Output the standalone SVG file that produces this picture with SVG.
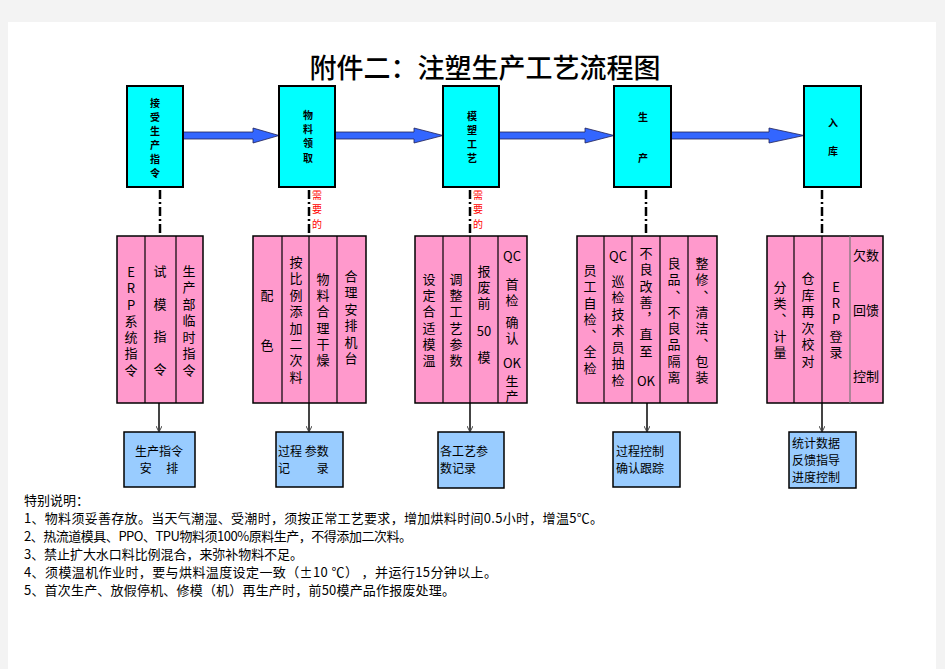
<svg xmlns="http://www.w3.org/2000/svg" width="945" height="669" viewBox="0 0 945 669">
<style>
.t{font-family:"Noto Sans CJK SC","Liberation Sans",sans-serif;fill:#000}
.v{writing-mode:vertical-rl;text-orientation:upright}
.top{fill:#00FFFF;stroke:#000;stroke-width:2}
.tt{font-size:10px;font-weight:bold}
.pk{fill:#FF99CC;stroke:#000;stroke-width:1.5}
.pd{stroke:#000;stroke-width:1.2}
.ct{font-size:13px}
.bt{font-size:12px}
.bl{fill:#99CCFF;stroke:#000;stroke-width:1.5}
.arr{fill:#3366FF;stroke:#222255;stroke-width:0.8}
.dd{stroke:#000;stroke-width:2.5;stroke-dasharray:9 3 2 3;fill:none}
.ln{stroke:#444;stroke-width:2;fill:none;marker-end:url(#ah)}
.red{font-size:10px;fill:#FF0000}
.nt{font-size:13px}
</style>
<defs>
<marker id="ah" markerWidth="6" markerHeight="6" refX="5" refY="3" orient="auto" markerUnits="userSpaceOnUse">
<path d="M0,0 L6,3 L0,6" fill="none" stroke="#444" stroke-width="1"/>
</marker>
</defs>
<rect x="0" y="0" width="945" height="669" fill="#F3F3F3"/>
<rect x="8" y="22" width="928" height="647" fill="#FFFFFF"/>
<text class="t" x="485" y="78" font-size="27" font-weight="500" text-anchor="middle">附件二：注塑生产工艺流程图</text>

<g id="connectors">
<polygon class="arr" points="183,132 253,132 253,128 279,135.5 253,143 253,139 183,139"/>
<polygon class="arr" points="335,132 414,132 414,128 443,135.5 414,143 414,139 335,139"/>
<polygon class="arr" points="499,132 585,132 585,128 614,135.5 585,143 585,139 499,139"/>
<polygon class="arr" points="671,132 769,132 769,128 804,135.5 769,143 769,139 671,139"/>
<line class="dd" x1="160" y1="190" x2="160" y2="236"/>
<line class="dd" x1="309" y1="190" x2="309" y2="236"/>
<line class="dd" x1="470" y1="190" x2="470" y2="236"/>
<line class="dd" x1="646" y1="190" x2="646" y2="236"/>
<line class="dd" x1="822" y1="190" x2="822" y2="236"/>
<text class="t red v" x="317" y="190" letter-spacing="4.5">需要的</text>
<text class="t red v" x="478" y="190" letter-spacing="4.5">需要的</text>
<line class="ln" x1="159" y1="403" x2="159" y2="431"/>
<line class="ln" x1="309" y1="403" x2="309" y2="431"/>
<line class="ln" x1="470" y1="403" x2="470" y2="431"/>
<line class="ln" x1="647" y1="403" x2="647" y2="431"/>
<line class="ln" x1="822" y1="403" x2="822" y2="431"/>
</g>

<g id="n1">
<rect class="top" x="127" y="86" width="56" height="101"/>
<text class="t tt v" x="155" y="98" letter-spacing="4">接受生产指令</text>
</g>
<g id="n2">
<rect class="top" x="279" y="86" width="56" height="101"/>
<text class="t tt v" x="308" y="110" letter-spacing="4.3">物料领取</text>
</g>
<g id="n3">
<rect class="top" x="443" y="86" width="56" height="101"/>
<text class="t tt v" x="472" y="111" letter-spacing="4">模塑工艺</text>
</g>
<g id="n4">
<rect class="top" x="614" y="86" width="57" height="101"/>
<text class="t tt v" x="643" y="112" letter-spacing="31">生产</text>
</g>
<g id="n5">
<rect class="top" x="804" y="86" width="57" height="101"/>
<text class="t tt v" x="833" y="118" letter-spacing="18">入库</text>
</g>

<g id="p1">
<rect class="pk" x="117" y="236" width="86" height="167"/>
<line class="pd" x1="145" y1="236" x2="145" y2="403"/>
<line class="pd" x1="176" y1="236" x2="176" y2="403"/>
<text class="t ct v" x="131" y="265.5" letter-spacing="3.3">ERP系统指令</text>
<text class="t ct v" x="160" y="264.5" letter-spacing="19.7">试模指令</text>
<text class="t ct v" x="189" y="264.5" letter-spacing="3.5">生产部临时指令</text>
</g>

<g id="p2">
<rect class="pk" x="253" y="236" width="113" height="167"/>
<line class="pd" x1="282" y1="236" x2="282" y2="403"/>
<line class="pd" x1="309" y1="236" x2="309" y2="403"/>
<line class="pd" x1="337" y1="236" x2="337" y2="403"/>
<text class="t ct v" x="267" y="288.5" letter-spacing="37">配色</text>
<text class="t ct v" x="296" y="255.5" letter-spacing="3.4">按比例添加二次料</text>
<text class="t ct v" x="323" y="272.5" letter-spacing="3.2">物料合理干燥</text>
<text class="t ct v" x="351" y="269.5" letter-spacing="3.4">合理安排机台</text>
</g>

<g id="p3">
<rect class="pk" x="415" y="236" width="112" height="167"/>
<line class="pd" x1="443" y1="236" x2="443" y2="403"/>
<line class="pd" x1="470" y1="236" x2="470" y2="403"/>
<line class="pd" x1="498" y1="236" x2="498" y2="403"/>
<text class="t ct v" x="429" y="272.5" letter-spacing="3.2">设定合适模温</text>
<text class="t ct v" x="456" y="272.5" letter-spacing="3.2">调整工艺参数</text>
<text class="t ct v" x="484" y="264.5" letter-spacing="3">报废前</text>
<text class="t ct" x="484" y="330" text-anchor="middle" dominant-baseline="central">50</text>
<text class="t ct v" x="484" y="350.5">模</text>
<text class="t ct" x="512" y="255" text-anchor="middle" dominant-baseline="central">QC</text>
<text class="t ct v" x="512" y="277.5" letter-spacing="3">首检</text>
<text class="t ct v" x="512" y="315.5" letter-spacing="3">确认</text>
<text class="t ct" x="512" y="362" text-anchor="middle" dominant-baseline="central">OK</text>
<text class="t ct v" x="512" y="375" letter-spacing="1.5">生产</text>
</g>

<g id="p4">
<rect class="pk" x="577" y="236" width="140" height="167"/>
<line class="pd" x1="604" y1="236" x2="604" y2="403"/>
<line class="pd" x1="632" y1="236" x2="632" y2="403"/>
<line class="pd" x1="660" y1="236" x2="660" y2="403"/>
<line class="pd" x1="688" y1="236" x2="688" y2="403"/>
<text class="t ct v" x="590" y="263.5" letter-spacing="3.3">员工自检、全检</text>
<text class="t ct" x="618" y="255" text-anchor="middle" dominant-baseline="central">QC</text>
<text class="t ct v" x="618" y="274.5" letter-spacing="3.5">巡检技术员抽检</text>
<text class="t ct v" x="646" y="246.5" letter-spacing="3.3">不良改善，直至</text>
<text class="t ct" x="646" y="380" text-anchor="middle" dominant-baseline="central">OK</text>
<text class="t ct v" x="674" y="256.5" letter-spacing="3.3">良品、不良品隔离</text>
<text class="t ct v" x="702" y="256.5" letter-spacing="3.3">整修、清洁、包装</text>
</g>

<g id="p5">
<rect class="pk" x="767" y="236" width="116" height="167"/>
<line class="pd" x1="794" y1="236" x2="794" y2="403"/>
<line class="pd" x1="822" y1="236" x2="822" y2="403"/>
<line x1="850" y1="236" x2="850" y2="403" stroke="#777" stroke-width="1.2"/>
<text class="t ct v" x="780" y="280.5" letter-spacing="3.25">分类、计量</text>
<text class="t ct v" x="808" y="271.5" letter-spacing="3.6">仓库再次校对</text>
<text class="t ct v" x="836" y="280.5" letter-spacing="3.25">ERP登录</text>
<text class="t ct" x="866" y="254" text-anchor="middle" dominant-baseline="central">欠数</text>
<text class="t ct" x="866" y="309" text-anchor="middle" dominant-baseline="central">回馈</text>
<text class="t ct" x="866" y="375" text-anchor="middle" dominant-baseline="central">控制</text>
</g>

<g id="b1">
<rect class="bl" x="124" y="432" width="71" height="55"/>
<text class="t bt" x="159" y="450" text-anchor="middle" dominant-baseline="central">生产指令</text>
<text class="t bt" x="159" y="467" text-anchor="middle" dominant-baseline="central">安　 排</text>
</g>
<g id="b2">
<rect class="bl" x="276" y="432" width="67" height="55"/>
<text class="t bt" x="278" y="450" dominant-baseline="central">过程 参数</text>
<text class="t bt" x="278" y="467" dominant-baseline="central">记　　 录</text>
</g>
<g id="b3">
<rect class="bl" x="438" y="432" width="66" height="56"/>
<text class="t bt" x="440" y="450" dominant-baseline="central">各工艺参</text>
<text class="t bt" x="440" y="467" dominant-baseline="central">数记录</text>
</g>
<g id="b4">
<rect class="bl" x="613" y="432" width="67" height="55"/>
<text class="t bt" x="616" y="450" dominant-baseline="central">过程控制</text>
<text class="t bt" x="616" y="467" dominant-baseline="central">确认跟踪</text>
</g>
<g id="b5">
<rect class="bl" x="789" y="432" width="67" height="56"/>
<text class="t bt" x="792" y="442" dominant-baseline="central">统计数据</text>
<text class="t bt" x="792" y="459" dominant-baseline="central">反馈指导</text>
<text class="t bt" x="792" y="476" dominant-baseline="central">进度控制</text>
</g>

<g id="notes">
<text class="t nt" x="24" y="499" dominant-baseline="central">特别说明：</text>
<text class="t nt" x="24" y="517" dominant-baseline="central" textLength="579" lengthAdjust="spacing">1、物料须妥善存放。当天气潮湿、受潮时，须按正常工艺要求，增加烘料时间0.5小时，增温5℃。</text>
<text class="t nt" x="24" y="535" dominant-baseline="central" textLength="388" lengthAdjust="spacing">2、热流道模具、PPO、TPU物料须100%原料生产，不得添加二次料。</text>
<text class="t nt" x="24" y="553" dominant-baseline="central" textLength="279" lengthAdjust="spacing">3、禁止扩大水口料比例混合，来弥补物料不足。</text>
<text class="t nt" x="24" y="571" dominant-baseline="central" textLength="473" lengthAdjust="spacing">4、须模温机作业时，要与烘料温度设定一致（±10 ℃） ，并运行15分钟以上。</text>
<text class="t nt" x="24" y="589" dominant-baseline="central" textLength="431" lengthAdjust="spacing">5、首次生产、放假停机、修模（机）再生产时，前50模产品作报废处理。</text>
</g>
</svg>
